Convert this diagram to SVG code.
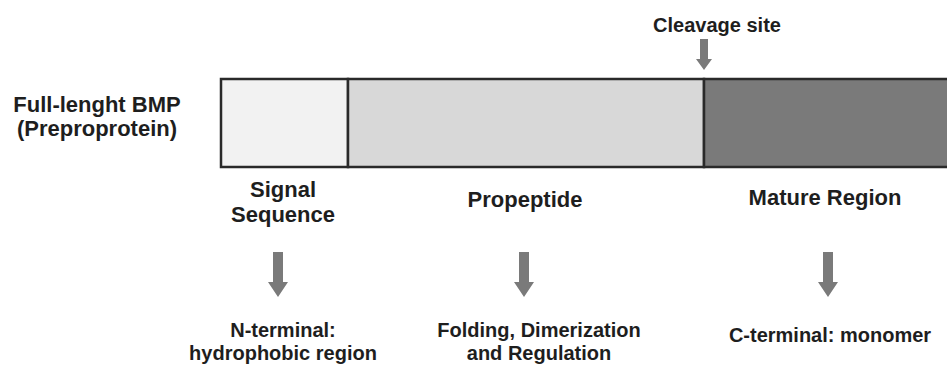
<svg xmlns="http://www.w3.org/2000/svg" width="947" height="365" viewBox="0 0 947 365">
<defs>
<style>
text{font-family:"Liberation Sans",Arial,sans-serif;font-weight:bold;fill:#1e1e1e;text-anchor:middle;font-size:22px}
.sm{font-size:20px}
.seg{stroke:#2a2a2a;stroke-width:2.5}
.arr{fill:#7a7a7a}
</style>
<path id="arrow" class="arr" d="M-5,0 H5 V30 H10 L0,45 L-10,30 H-5 Z"/>
</defs>
<rect width="947" height="365" fill="#fff"/>
<g id="label-full"><text x="97" y="112">Full-lenght BMP</text><text x="97" y="136">(Preproprotein)</text></g>
<g id="signal"><rect class="seg" x="221" y="79" width="127" height="88" fill="#f2f2f2"/></g>
<g id="propeptide"><rect class="seg" x="348" y="79" width="356" height="88" fill="#d8d8d8"/></g>
<g id="mature"><rect class="seg" x="704" y="79" width="250" height="88" fill="#7a7a7a"/></g>
<g id="cleavage"><text class="sm" x="717" y="32">Cleavage site</text>
<path class="arr" d="M700,39 H708 V59 H712 L704,70 L696,59 H700 Z"/></g>
<g id="signal-label"><text x="283" y="197">Signal</text><text x="283" y="222">Sequence</text></g>
<g id="propeptide-label"><text x="525" y="207">Propeptide</text></g>
<g id="mature-label"><text x="825" y="205">Mature Region</text></g>
<g id="connectors">
<use href="#arrow" x="278" y="252"/>
<use href="#arrow" x="524" y="252"/>
<use href="#arrow" x="828" y="252"/>
</g>
<g id="n-term"><text class="sm" x="283" y="337">N-terminal:</text><text class="sm" x="283" y="360">hydrophobic region</text></g>
<g id="folding"><text class="sm" x="539" y="337">Folding, Dimerization</text><text class="sm" x="539" y="360">and Regulation</text></g>
<g id="c-term"><text class="sm" x="830" y="342">C-terminal: monomer</text></g>
</svg>
